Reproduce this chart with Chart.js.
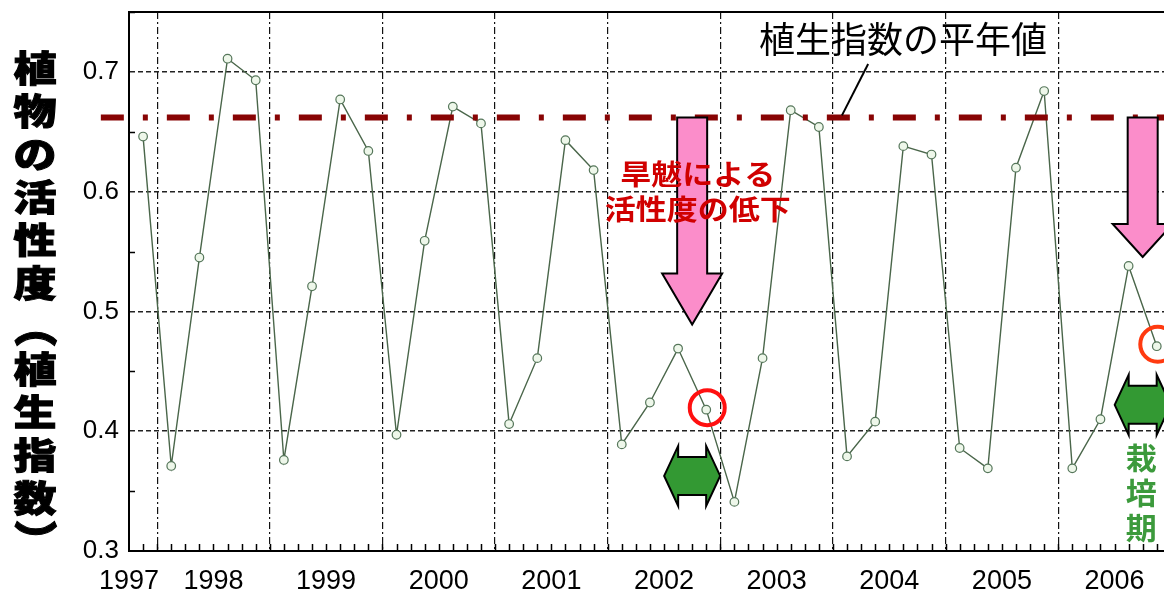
<!DOCTYPE html>
<html lang="ja">
<head>
<meta charset="utf-8">
<title>植物の活性度（植生指数）</title>
<script src="https://cdn.jsdelivr.net/npm/chart.js@4.4.1/dist/chart.umd.min.js"></script>
<style>
  html, body { margin: 0; padding: 0; background: #fff; overflow: hidden; }
  #wrap { width: 1164px; height: 594px; overflow: hidden; }
  canvas { display: block; }
</style>
</head>
<body>
<div id="wrap"><canvas id="ndviChart" width="1210" height="594"></canvas></div>
<script>
// years on the axis, first observation belongs to 1997
const years = ['1997', '1998', '1999', '2000', '2001', '2002', '2003', '2004', '2005', '2006'];
const obsPerYear = 4;

// vegetation index, one value per observation
const ndvi = [
  0.646,
  0.371, 0.545, 0.711, 0.693,
  0.376, 0.521, 0.677, 0.634,
  0.397, 0.559, 0.671, 0.657,
  0.406, 0.461, 0.643, 0.618,
  0.389, 0.424, 0.469, 0.418,
  0.341, 0.461, 0.668, 0.654,
  0.379, 0.408, 0.638, 0.631,
  0.386, 0.369, 0.620, 0.684,
  0.369, 0.410, 0.538, 0.471
];

// normal-year value of the index
const normalNdvi = 0.662;

const yTicks = [0.3, 0.4, 0.5, 0.6, 0.7];

// annotations (observation index / index value)
const droughtArrows = [
  { x: 19.5, tip: 0.489, headLen: 51 },
  { x: 35.5, tip: 0.5455, headLen: 33 }
];
const seasonArrows = [
  { x: 19.5, y: 0.3627 },
  { x: 35.5, y: 0.422 }
];
const circledObs = [
  { i: 20, color: '#ff1010' },
  { i: 36, color: '#ff3a10' }
];

const X_MIN = -0.5;
const X_MAX = 37.5;

// year boundaries and label positions
const boundaries = years.slice(1).map((_, k) => 0.5 + k * obsPerYear);
const labelPos = years.map((_, k) => Math.max(X_MIN, 0.5 + k * obsPerYear - obsPerYear / 2));

const near = (a, b) => Math.abs(a - b) < 1e-6;

function downArrow(ctx, cx, yTop, yTip, shaftHalf, headHalf, headLen) {
  const yHead = yTip - headLen;
  ctx.beginPath();
  ctx.moveTo(cx - shaftHalf, yTop);
  ctx.lineTo(cx + shaftHalf, yTop);
  ctx.lineTo(cx + shaftHalf, yHead);
  ctx.lineTo(cx + headHalf, yHead);
  ctx.lineTo(cx, yTip);
  ctx.lineTo(cx - headHalf, yHead);
  ctx.lineTo(cx - shaftHalf, yHead);
  ctx.closePath();
  ctx.fill();
  ctx.stroke();
}

function doubleArrow(ctx, cx, cy, halfLen, headLen, headHalf, shaftHalf) {
  const l = cx - halfLen, r = cx + halfLen;
  ctx.beginPath();
  ctx.moveTo(l, cy);
  ctx.lineTo(l + headLen, cy - headHalf);
  ctx.lineTo(l + headLen, cy - shaftHalf);
  ctx.lineTo(r - headLen, cy - shaftHalf);
  ctx.lineTo(r - headLen, cy - headHalf);
  ctx.lineTo(r, cy);
  ctx.lineTo(r - headLen, cy + headHalf);
  ctx.lineTo(r - headLen, cy + shaftHalf);
  ctx.lineTo(l + headLen, cy + shaftHalf);
  ctx.lineTo(l + headLen, cy + headHalf);
  ctx.closePath();
  ctx.fill();
  ctx.stroke();
}

function squashedText(ctx, text, cx, cy, sy, rot, outline) {
  ctx.save();
  ctx.translate(cx, cy);
  if (rot) ctx.rotate(rot);
  ctx.scale(1, sy);
  ctx.fillText(text, 0, 0);
  if (outline) ctx.strokeText(text, 0, 0);
  ctx.restore();
}

const cjk = '"Noto Sans CJK JP", "Noto Sans CJK SC", sans-serif';

const overlay = {
  id: 'overlay',
  beforeDatasetsDraw(chart) {
    const { ctx, chartArea: a, scales: { x, y } } = chart;
    ctx.save();
    ctx.strokeStyle = '#000';
    ctx.lineWidth = 2;
    ctx.beginPath();
    ctx.moveTo(a.left - 1, a.top);
    ctx.lineTo(a.right, a.top);
    ctx.stroke();

    // small inward ticks
    ctx.lineWidth = 1.5;
    ctx.beginPath();
    for (let v = X_MIN + 0.5; v <= X_MAX; v += 0.5) {
      const px = Math.round(x.getPixelForValue(v)) + 0.5;
      ctx.moveTo(px, a.bottom);
      ctx.lineTo(px, a.bottom - 7);
    }
    for (let v = 0.35; v < 0.75; v += 0.1) {
      const py = Math.round(y.getPixelForValue(v)) + 0.5;
      ctx.moveTo(a.left, py);
      ctx.lineTo(a.left + 6, py);
    }
    ctx.stroke();
    ctx.restore();
  },
  afterDatasetsDraw(chart) {
    const { ctx, scales: { x, y } } = chart;
    ctx.save();

    // pink drought arrows
    ctx.fillStyle = '#fb8dca';
    ctx.strokeStyle = '#000';
    ctx.lineWidth = 2;
    ctx.lineJoin = 'miter';
    droughtArrows.forEach(a => {
      downArrow(ctx, x.getPixelForValue(a.x), y.getPixelForValue(normalNdvi),
        y.getPixelForValue(a.tip), 15, 30, a.headLen);
    });

    // green growing-season arrows
    ctx.fillStyle = '#339933';
    seasonArrows.forEach(a => {
      doubleArrow(ctx, x.getPixelForValue(a.x), y.getPixelForValue(a.y), 28, 14, 30, 19);
    });

    // red circles around the observed point
    ctx.lineWidth = 4;
    circledObs.forEach(c => {
      ctx.strokeStyle = c.color;
      ctx.beginPath();
      ctx.arc(x.getPixelForValue(c.i) + 1, y.getPixelForValue(ndvi[c.i]) - 2, 17.5, 0, Math.PI * 2);
      ctx.stroke();
    });

    // drought text
    ctx.fillStyle = '#d00000';
    ctx.textAlign = 'center';
    ctx.textBaseline = 'middle';
    ctx.font = 'bold 31px ' + cjk;
    const tx = x.getPixelForValue(19.7);
    const ty = y.getPixelForValue(0.6148);
    squashedText(ctx, '旱魃による', tx, ty, 0.9);
    squashedText(ctx, '活性度の低下', tx, ty + 35, 0.9);

    // growing season label
    ctx.fillStyle = '#3c9a3c';
    ctx.font = 'bold 31px ' + cjk;
    const gx = x.getPixelForValue(35.45);
    const gy = y.getPixelForValue(0.378);
    ['栽', '培', '期'].forEach((ch, k) => squashedText(ctx, ch, gx, gy + k * 35, 0.95));

    // normal-year label with leader
    ctx.strokeStyle = '#000';
    ctx.lineWidth = 2;
    ctx.beginPath();
    ctx.moveTo(x.getPixelForValue(24.82), y.getPixelForValue(normalNdvi) - 2);
    ctx.lineTo(x.getPixelForValue(25.75), y.getPixelForValue(0.7066));
    ctx.stroke();
    ctx.fillStyle = '#000';
    ctx.font = '36px ' + cjk;
    ctx.fillText('植生指数の平年値', x.getPixelForValue(26.99), y.getPixelForValue(0.7275));
    ctx.restore();
  },
  afterDraw(chart) {
    // vertical axis title
    const { ctx } = chart;
    const title = '植物の活性度（植生指数）';
    ctx.save();
    ctx.fillStyle = '#000';
    ctx.strokeStyle = '#000';
    ctx.lineWidth = 1.2;
    ctx.textAlign = 'center';
    ctx.textBaseline = 'middle';
    ctx.font = '900 43px ' + cjk;
    [...title].forEach((ch, k) => {
      const cy = 68 + k * 43;
      const paren = ch === '（' || ch === '）';
      squashedText(ctx, ch, 35, cy, paren ? 1 : 0.84, paren ? Math.PI / 2 : 0, true);
    });
    ctx.restore();
  }
};

const ctx = document.getElementById('ndviChart').getContext('2d');
new Chart(ctx, {
  type: 'line',
  data: {
    datasets: [
      {
        label: '植生指数',
        data: ndvi.map((v, i) => ({ x: i, y: v })),
        borderColor: '#4a664a',
        borderWidth: 1.4,
        pointRadius: 4.3,
        pointBorderWidth: 1.2,
        pointBorderColor: '#55765a',
        pointBackgroundColor: '#eef7ea',
        tension: 0,
        order: 1
      },
      {
        label: '植生指数の平年値',
        data: [{ x: X_MIN - 1, y: normalNdvi }, { x: X_MAX, y: normalNdvi }],
        borderColor: '#880404',
        borderWidth: 6,
        borderDash: [23, 19, 5, 19],
        pointRadius: 0,
        clip: false,
        order: 0
      }
    ]
  },
  options: {
    responsive: false,
    animation: false,
    devicePixelRatio: 1,
    layout: { padding: { left: 0, right: 11, top: 12, bottom: 0 } },
    plugins: {
      legend: { display: false },
      tooltip: { enabled: false }
    },
    scales: {
      x: {
        type: 'linear',
        min: X_MIN,
        max: X_MAX,
        afterBuildTicks: s => {
          const vals = [...boundaries, ...labelPos].sort((a, b) => a - b);
          s.ticks = vals.map(v => ({ value: v }));
        },
        afterFit: s => { s.height = 43; s.paddingLeft = 0; s.paddingRight = 0; },
        ticks: {
          autoSkip: false,
          maxRotation: 0,
          padding: 14,
          color: '#000',
          font: { family: '"Liberation Sans", Arial, sans-serif', size: 27 },
          callback: v => {
            const k = labelPos.findIndex(p => near(p, v));
            return k >= 0 ? years[k] : '';
          }
        },
        grid: {
          drawTicks: false,
          lineWidth: 1.2,
          color: c => (c.tick && boundaries.some(b => near(b, c.tick.value))) ? '#111' : 'rgba(0,0,0,0)'
        },
        border: { display: true, color: '#000', width: 2, dash: [7, 3, 2, 3] }
      },
      y: {
        min: 0.3,
        max: 0.75,
        afterBuildTicks: s => { s.ticks = yTicks.map(v => ({ value: v })); },
        afterFit: s => { s.width = 129; s.paddingTop = 0; s.paddingBottom = 0; },
        ticks: {
          padding: 10,
          color: '#000',
          font: { family: '"Liberation Sans", Arial, sans-serif', size: 26 },
          callback: v => v.toFixed(1)
        },
        grid: {
          drawTicks: false,
          lineWidth: 1.5,
          color: c => (c.tick && c.tick.value > 0.31) ? '#222' : 'rgba(0,0,0,0)'
        },
        border: { display: true, color: '#000', width: 2, dash: [5, 3] }
      }
    }
  },
  plugins: [overlay]
});
</script>
</body>
</html>
